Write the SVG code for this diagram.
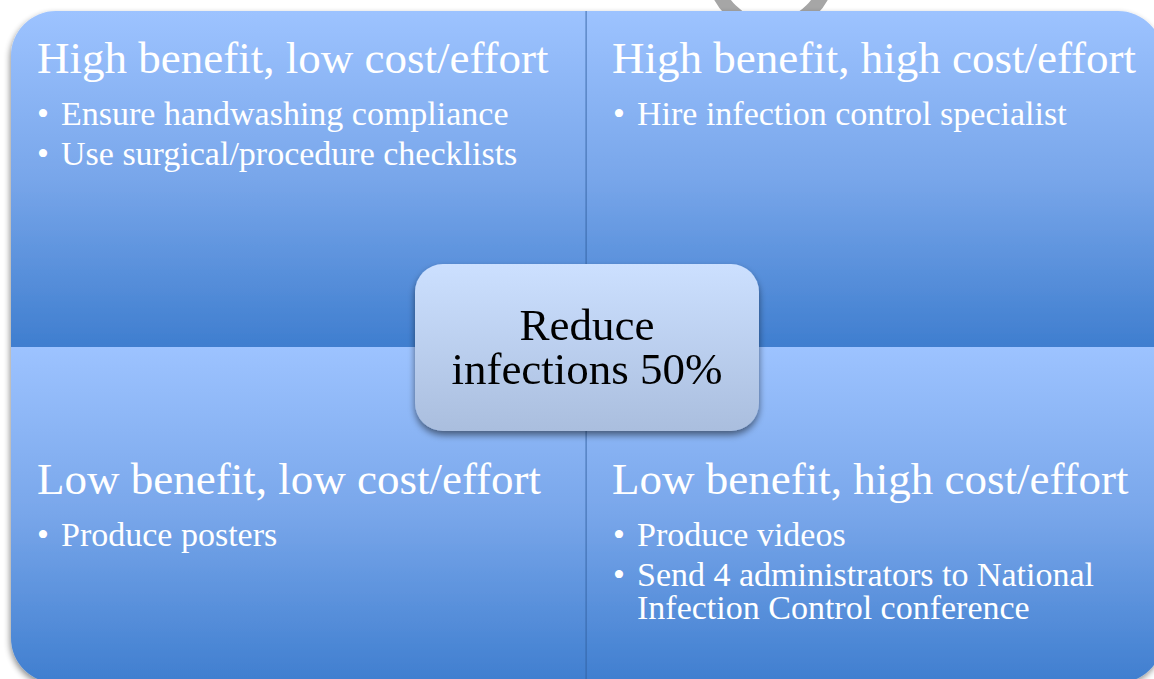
<svg xmlns="http://www.w3.org/2000/svg" width="1154" height="679" viewBox="0 0 1154 679">
  <defs>
    <linearGradient id="qgrad" x1="0" y1="0" x2="0" y2="1">
      <stop offset="0" stop-color="#9DC3FF"/>
      <stop offset="0.5" stop-color="#78A6EA"/>
      <stop offset="1" stop-color="#3F7ECF"/>
    </linearGradient>
    <linearGradient id="cgrad" x1="0" y1="0" x2="0" y2="1">
      <stop offset="0" stop-color="#CCE0FF"/>
      <stop offset="1" stop-color="#AABEDE"/>
    </linearGradient>
    <filter id="outerShadow" x="-5%" y="-5%" width="110%" height="110%">
      <feGaussianBlur in="SourceAlpha" stdDeviation="3"/>
      <feOffset dx="-1" dy="3" result="b"/>
      <feComponentTransfer><feFuncA type="linear" slope="0.45"/></feComponentTransfer>
      <feMerge><feMergeNode/><feMergeNode in="SourceGraphic"/></feMerge>
    </filter>
    <filter id="boxShadow" x="-10%" y="-10%" width="120%" height="130%">
      <feGaussianBlur in="SourceAlpha" stdDeviation="3.5"/>
      <feOffset dx="0" dy="4" result="b"/>
      <feComponentTransfer><feFuncA type="linear" slope="0.5"/></feComponentTransfer>
      <feMerge><feMergeNode/><feMergeNode in="SourceGraphic"/></feMerge>
    </filter>
  </defs>
  <style>
    .title { font-family: "Liberation Serif", "Times New Roman", serif; font-size: 45px; fill: #FFFFFF; }
    .item { font-family: "Liberation Serif", "Times New Roman", serif; font-size: 34px; fill: #FFFFFF; }
    .center { font-family: "Liberation Serif", "Times New Roman", serif; font-size: 45px; fill: #000000; text-anchor: middle; }
    .quad { fill: url(#qgrad); }
  </style>

  <rect width="1154" height="679" fill="#FFFFFF"/>

  <!-- background gray arc -->
  <circle cx="771" cy="-30" r="57" fill="none" stroke="#A6A6A6" stroke-width="14"/>

  <g id="quadrants" filter="url(#outerShadow)">
    <g id="q-high-low">
      <path class="quad" d="M11,347 V56 A45,45 0 0 1 56,11 H587 V347 Z"/>
    </g>
    <g id="q-high-high">
      <path class="quad" d="M587,11 H1118 A45,45 0 0 1 1163,56 V347 H587 Z"/>
    </g>
    <g id="q-low-low">
      <path class="quad" d="M11,347 H587 V683 H56 A45,45 0 0 1 11,638 Z"/>
    </g>
    <g id="q-low-high">
      <path class="quad" d="M587,347 H1163 V638 A45,45 0 0 1 1118,683 H587 Z"/>
    </g>
  </g>
  <line x1="585.5" y1="11" x2="585.5" y2="683" stroke="#2F5E9E" stroke-opacity="0.35" stroke-width="1"/>
  <line x1="586.5" y1="11" x2="586.5" y2="683" stroke="#2F5E9E" stroke-opacity="0.5" stroke-width="1"/>

  <g id="text-high-low">
    <text class="title" x="37" y="73">High benefit, low cost/effort</text>
    <text class="item" x="37" y="125">•</text>
    <text class="item" x="61" y="125">Ensure handwashing compliance</text>
    <text class="item" x="37" y="165">•</text>
    <text class="item" x="61" y="165">Use surgical/procedure checklists</text>
  </g>
  <g id="text-high-high">
    <text class="title" x="612" y="73">High benefit, high cost/effort</text>
    <text class="item" x="613" y="125">•</text>
    <text class="item" x="637" y="125">Hire infection control specialist</text>
  </g>
  <g id="text-low-low">
    <text class="title" x="37" y="494">Low benefit, low cost/effort</text>
    <text class="item" x="37" y="546">•</text>
    <text class="item" x="61" y="546">Produce posters</text>
  </g>
  <g id="text-low-high">
    <text class="title" x="612" y="494">Low benefit, high cost/effort</text>
    <text class="item" x="613" y="546">•</text>
    <text class="item" x="637" y="546">Produce videos</text>
    <text class="item" x="613" y="586">•</text>
    <text class="item"><tspan x="637" y="586">Send 4 administrators to National</tspan><tspan x="637" y="619">Infection Control conference</tspan></text>
  </g>

  <g id="center-node" filter="url(#boxShadow)">
    <rect x="415" y="264" width="344" height="167" rx="28" ry="28" fill="url(#cgrad)"/>
    <text class="center"><tspan x="587" y="340">Reduce</tspan><tspan x="587" y="384">infections 50%</tspan></text>
  </g>
</svg>
